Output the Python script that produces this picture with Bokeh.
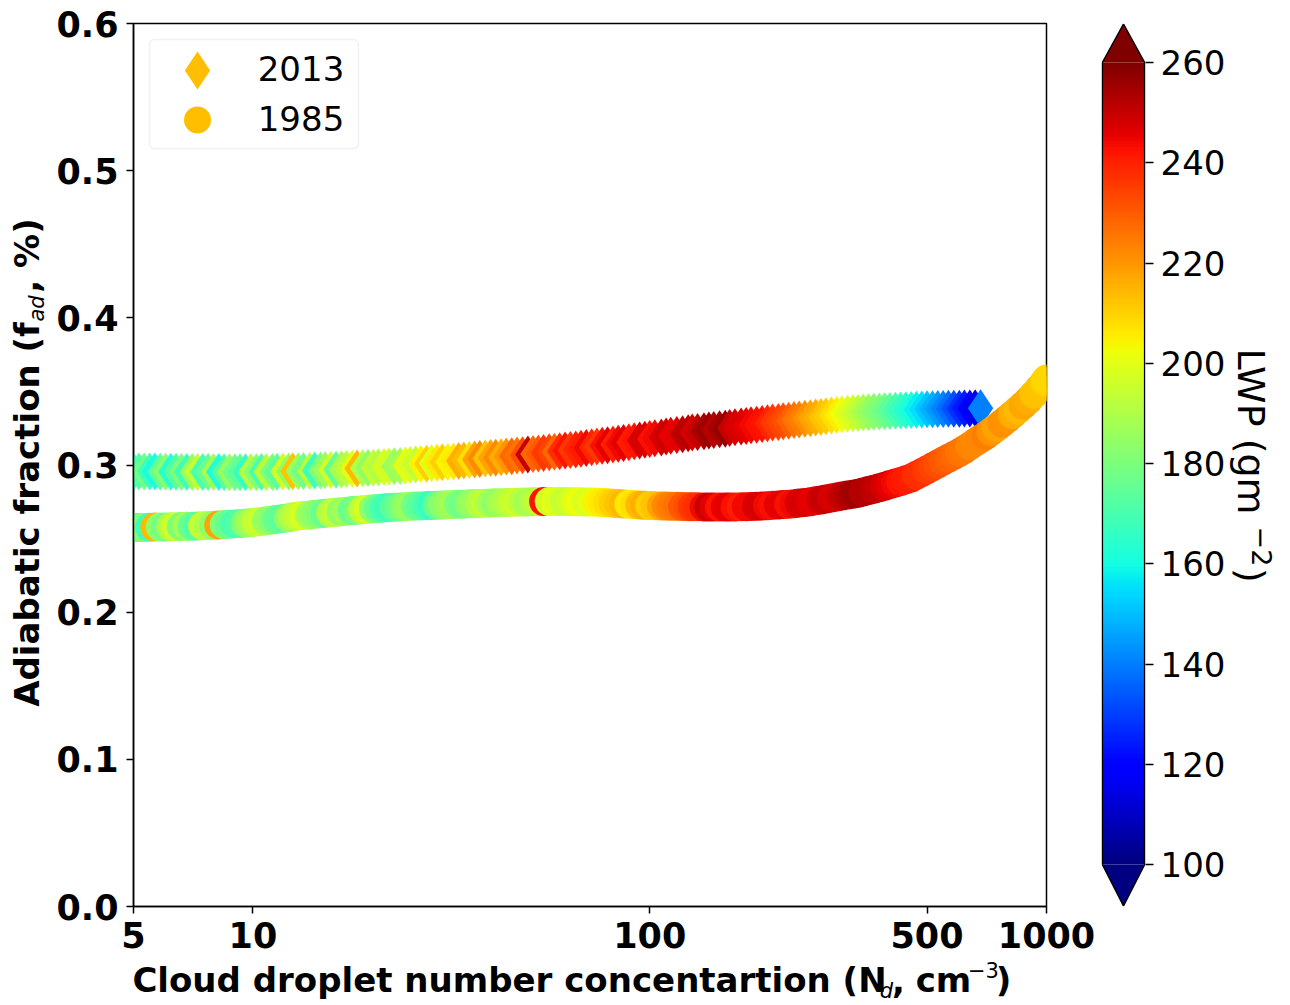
import numpy as np
from bokeh.plotting import figure
from bokeh.layouts import row, column
from bokeh.models import (Range1d, FixedTicker, BoxAnnotation, ColumnDataSource,
                          LinearColorMapper, NumeralTickFormatter)
from bokeh.transform import linear_cmap
from bokeh.core.properties import value
from bokeh.embed import file_html
from bokeh.resources import INLINE

# ---------------- data ----------------
nd_2013 = [5.00, 5.16, 5.32, 5.49, 5.66, 5.84, 6.02, 6.21, 6.40, 6.60,
           6.81, 7.03, 7.25, 7.47, 7.71, 7.95, 8.20, 8.46, 8.72, 9.00,
           9.28, 9.57, 9.87, 10.2, 10.5, 10.8, 11.2, 11.5, 11.9, 12.3,
           12.6, 13.0, 13.4, 13.9, 14.3, 14.8, 15.2, 15.7, 16.2, 16.7,
           17.2, 17.8, 18.3, 18.9, 19.5, 20.1, 20.7, 21.4, 22.0, 22.7,
           23.5, 24.2, 24.9, 25.7, 26.5, 27.4, 28.2, 29.1, 30.0, 31.0,
           32.0, 33.0, 34.0, 35.1, 36.2, 37.3, 38.5, 39.7, 40.9, 42.2,
           43.5, 44.9, 46.3, 47.8, 49.3, 50.8, 52.4, 54.0, 55.8, 57.5,
           59.3, 61.2, 63.1, 65.1, 67.1, 69.2, 71.4, 73.6, 75.9, 78.3,
           80.8, 83.3, 85.9, 88.6, 91.4, 94.3, 97.2, 100, 103, 107,
           110, 113, 117, 121, 125, 128, 132, 137, 141, 145,
           150, 155, 159, 164, 170, 175, 180, 186, 192, 198,
           204, 211, 217, 224, 231, 238, 246, 254, 262, 270,
           278, 287, 296, 305, 315, 325, 335, 345, 356, 367,
           379, 391, 403, 416, 429, 442, 456, 470, 485, 500,
           516, 532, 549, 566, 584, 603, 621, 641, 661, 682]
fad_2013 = [0.2956, 0.2956, 0.2955, 0.2955, 0.2955, 0.2954, 0.2954, 0.2954, 0.2954, 0.2953,
            0.2953, 0.2953, 0.2953, 0.2952, 0.2952, 0.2952, 0.2952, 0.2951, 0.2951, 0.2951,
            0.2951, 0.2951, 0.2951, 0.2951, 0.2952, 0.2952, 0.2953, 0.2954, 0.2955, 0.2956,
            0.2957, 0.2958, 0.2959, 0.2960, 0.2962, 0.2963, 0.2965, 0.2966, 0.2968, 0.2970,
            0.2972, 0.2974, 0.2976, 0.2978, 0.2980, 0.2982, 0.2984, 0.2986, 0.2989, 0.2991,
            0.2994, 0.2997, 0.3000, 0.3003, 0.3006, 0.3009, 0.3012, 0.3015, 0.3018, 0.3021,
            0.3024, 0.3027, 0.3031, 0.3034, 0.3037, 0.3040, 0.3044, 0.3047, 0.3050, 0.3053,
            0.3057, 0.3060, 0.3064, 0.3067, 0.3071, 0.3074, 0.3078, 0.3082, 0.3086, 0.3090,
            0.3094, 0.3098, 0.3102, 0.3106, 0.3111, 0.3115, 0.3120, 0.3125, 0.3130, 0.3135,
            0.3140, 0.3145, 0.3150, 0.3155, 0.3161, 0.3166, 0.3172, 0.3177, 0.3182, 0.3187,
            0.3193, 0.3198, 0.3204, 0.3209, 0.3215, 0.3220, 0.3225, 0.3230, 0.3234, 0.3238,
            0.3243, 0.3247, 0.3252, 0.3256, 0.3261, 0.3265, 0.3270, 0.3274, 0.3279, 0.3283,
            0.3288, 0.3292, 0.3297, 0.3301, 0.3306, 0.3310, 0.3314, 0.3318, 0.3323, 0.3327,
            0.3332, 0.3336, 0.3340, 0.3344, 0.3348, 0.3351, 0.3354, 0.3357, 0.3359, 0.3361,
            0.3363, 0.3365, 0.3367, 0.3369, 0.3371, 0.3372, 0.3374, 0.3375, 0.3377, 0.3378,
            0.3379, 0.3380, 0.3381, 0.3382, 0.3383, 0.3383, 0.3384, 0.3384, 0.3385, 0.3385]
lwp_2013 = [165, 172, 178, 168, 160, 175, 182, 164, 172, 180,
            168, 186, 194, 170, 176, 188, 162, 172, 185, 178,
            174, 166, 190, 182, 170, 192, 180, 174, 196, 184,
            212, 186, 178, 192, 168, 180, 186, 196, 175, 188,
            192, 200, 214, 190, 184, 194, 190, 198, 196, 186,
            188, 200, 198, 194, 204, 210, 200, 206, 210, 204,
            206, 216, 214, 208, 218, 222, 212, 218, 222, 216,
            220, 228, 226, 232, 250, 228, 230, 236, 234, 228,
            238, 242, 236, 239, 241, 244, 239, 236, 243, 246,
            240, 244, 246, 241, 242, 248, 247, 243, 244, 248,
            249, 245, 246, 251, 252, 248, 250, 254, 256, 252,
            254, 257, 250, 248, 247, 245, 244, 243, 242, 239,
            236, 234, 232, 229, 226, 224, 221, 218, 216, 213,
            211, 208, 205, 202, 199, 196, 193, 189, 186, 183,
            180, 177, 174, 170, 167, 164, 161, 158, 155, 151,
            148, 144, 141, 137, 133, 128, 124, 119, 116, 140]

nd_1985 = [5.00, 5.16, 5.32, 5.49, 5.66, 5.84, 6.02, 6.21, 6.40, 6.60,
           6.81, 7.03, 7.25, 7.47, 7.71, 7.95, 8.20, 8.46, 8.72, 9.00,
           9.28, 9.57, 9.87, 10.2, 10.5, 10.8, 11.2, 11.5, 11.9, 12.3,
           12.6, 13.0, 13.4, 13.9, 14.3, 14.8, 15.2, 15.7, 16.2, 16.7,
           17.2, 17.8, 18.3, 18.9, 19.5, 20.1, 20.7, 21.4, 22.0, 22.7,
           23.5, 24.2, 24.9, 25.7, 26.5, 27.4, 28.2, 29.1, 30.0, 31.0,
           32.0, 33.0, 34.0, 35.1, 36.2, 37.3, 38.5, 39.7, 40.9, 42.2,
           43.5, 44.9, 46.3, 47.8, 49.3, 50.8, 52.4, 54.0, 55.8, 57.5,
           59.3, 61.2, 63.1, 65.1, 67.1, 69.2, 71.4, 73.6, 75.9, 78.3,
           80.8, 83.3, 85.9, 88.6, 91.4, 94.3, 97.2, 100, 103, 107,
           110, 113, 117, 121, 125, 128, 132, 137, 141, 145,
           150, 155, 159, 164, 170, 175, 180, 186, 192, 198,
           204, 211, 217, 224, 231, 238, 246, 254, 262, 270,
           278, 287, 296, 305, 315, 325, 335, 345, 356, 367,
           379, 391, 403, 416, 429, 442, 456, 470, 485, 500,
           516, 532, 549, 566, 584, 603, 621, 641, 661, 682,
           703, 725, 748, 772, 796, 821, 846, 873, 900, 929,
           958, 988, 1000]
fad_1985 = [0.2575, 0.2575, 0.2576, 0.2577, 0.2578, 0.2578, 0.2579, 0.2580, 0.2581, 0.2582,
            0.2583, 0.2584, 0.2586, 0.2587, 0.2589, 0.2591, 0.2593, 0.2595, 0.2597, 0.2600,
            0.2603, 0.2606, 0.2609, 0.2612, 0.2616, 0.2621, 0.2626, 0.2631, 0.2637, 0.2642,
            0.2648, 0.2653, 0.2657, 0.2661, 0.2665, 0.2669, 0.2672, 0.2676, 0.2679, 0.2682,
            0.2686, 0.2690, 0.2693, 0.2696, 0.2699, 0.2702, 0.2705, 0.2708, 0.2711, 0.2713,
            0.2715, 0.2717, 0.2719, 0.2721, 0.2722, 0.2724, 0.2725, 0.2727, 0.2728, 0.2730,
            0.2731, 0.2733, 0.2734, 0.2736, 0.2737, 0.2739, 0.2740, 0.2742, 0.2743, 0.2744,
            0.2745, 0.2746, 0.2747, 0.2748, 0.2749, 0.2750, 0.2751, 0.2752, 0.2752, 0.2752,
            0.2752, 0.2752, 0.2751, 0.2751, 0.2750, 0.2749, 0.2748, 0.2747, 0.2745, 0.2743,
            0.2740, 0.2738, 0.2735, 0.2733, 0.2730, 0.2728, 0.2726, 0.2724, 0.2723, 0.2722,
            0.2721, 0.2720, 0.2719, 0.2718, 0.2717, 0.2716, 0.2716, 0.2715, 0.2715, 0.2715,
            0.2715, 0.2715, 0.2715, 0.2715, 0.2716, 0.2717, 0.2718, 0.2719, 0.2721, 0.2723,
            0.2726, 0.2728, 0.2731, 0.2734, 0.2737, 0.2741, 0.2746, 0.2751, 0.2757, 0.2763,
            0.2769, 0.2775, 0.2782, 0.2789, 0.2796, 0.2802, 0.2808, 0.2817, 0.2826, 0.2836,
            0.2846, 0.2856, 0.2867, 0.2877, 0.2888, 0.2900, 0.2912, 0.2930, 0.2949, 0.2968,
            0.2988, 0.3007, 0.3027, 0.3046, 0.3065, 0.3085, 0.3106, 0.3130, 0.3154, 0.3178,
            0.3201, 0.3227, 0.3254, 0.3284, 0.3313, 0.3343, 0.3373, 0.3406, 0.3440, 0.3480,
            0.3521, 0.3566, 0.3585]
lwp_1985 = [170, 176, 182, 168, 214, 184, 178, 190, 196, 180,
            188, 176, 172, 194, 190, 184, 218, 180, 176, 170,
            172, 182, 188, 194, 196, 186, 182, 176, 174, 184,
            190, 194, 198, 188, 184, 180, 176, 190, 194, 184,
            188, 176, 180, 192, 198, 184, 176, 170, 168, 174,
            178, 184, 186, 178, 174, 170, 166, 176, 182, 186,
            188, 180, 178, 184, 186, 190, 194, 188, 184, 188,
            190, 194, 196, 192, 188, 190, 194, 242, 196, 200,
            198, 194, 196, 200, 202, 198, 200, 204, 206, 208,
            210, 212, 214, 206, 208, 214, 216, 210, 212, 218,
            222, 224, 226, 230, 232, 236, 238, 244, 250, 246,
            242, 245, 246, 243, 240, 244, 244, 247, 248, 244,
            243, 245, 246, 243, 244, 247, 248, 246, 245, 249,
            250, 248, 247, 250, 252, 254, 255, 252, 253, 251,
            250, 248, 246, 244, 242, 241, 240, 238, 237, 235,
            234, 232, 230, 229, 228, 226, 225, 223, 222, 223,
            224, 220, 218, 221, 220, 216, 214, 217, 216, 213,
            212, 210, 209]

series_labels = ["2013", "1985"]
x_ticks = [5, 10, 100, 500, 1000]
y_ticks = [0.0, 0.1, 0.2, 0.3, 0.4, 0.5, 0.6]
cbar_ticks = [100, 120, 140, 160, 180, 200, 220, 240, 260]
LWP_LOW, LWP_HIGH = 100, 260
X_LO, X_HI = 5, 1000
Y_LO, Y_HI = 0.0, 0.6

# ---------------- colormap (matplotlib "jet") ----------------
def jet(n=256):
    t = np.linspace(0, 1, n)
    r = np.interp(t, [0, 0.35, 0.66, 0.89, 1], [0, 0, 1, 1, 0.5])
    g = np.interp(t, [0, 0.125, 0.375, 0.64, 0.91, 1], [0, 0, 1, 1, 0, 0])
    b = np.interp(t, [0, 0.11, 0.34, 0.65, 1], [0.5, 1, 1, 0, 0])
    return ["#%02x%02x%02x" % (int(round(255 * a)), int(round(255 * c)), int(round(255 * d)))
            for a, c, d in zip(r, g, b)]

JET = jet()
FONT = "DejaVu Sans"
LEG_COLOR = "#ffbf00"

# page geometry of the plot frame (used for legend / title placement only)
FL, FR, FT, FB = 133, 1046, 23, 906
def px2x(px):
    return X_LO * 10 ** ((px - FL) / (FR - FL) * np.log10(X_HI / X_LO))
def py2y(py):
    return Y_LO + (FB - py) / (FB - FT) * (Y_HI - Y_LO)

def put_text(fig, x, y, text, size="34px", style="bold", angle=0.0):
    # anchored on the centre of the text (centre / middle alignment)
    fig.text(x=[x], y=[y], text=[text], text_font=value(FONT), text_font_size=value(size),
             text_font_style=style, text_color="black", text_align="center",
             text_baseline="middle", angle=angle)

def text_fig(w, h, xr, yr):
    # xr / yr: the page-pixel span covered by this strip's frame (y given top->bottom)
    f = figure(width=w, height=h, x_range=Range1d(*xr), y_range=Range1d(yr[1], yr[0]),
               output_backend="svg", toolbar_location=None,
               x_axis_location=None, y_axis_location=None,
               min_border_left=0, min_border_right=0, min_border_top=0, min_border_bottom=0)
    f.grid.visible = False
    f.outline_line_color = None
    f.background_fill_color = "white"
    f.border_fill_color = "white"
    return f

# ---------------- main figure ----------------
LEFT_W = 50          # width of the y-title strip
P_W, P_H = 1045, 957
p = figure(width=P_W, height=P_H, x_axis_type="log",
           x_range=Range1d(X_LO, X_HI), y_range=Range1d(Y_LO, Y_HI),
           output_backend="svg", toolbar_location=None,
           min_border_left=FL - LEFT_W, min_border_right=49, min_border_top=FT,
           min_border_bottom=P_H - FB)
p.background_fill_color = "white"
p.border_fill_color = "white"
p.grid.visible = False
p.outline_line_color = "black"
p.outline_line_width = 1.5

p.xaxis.ticker = FixedTicker(ticks=x_ticks, minor_ticks=[])
p.xaxis.formatter = NumeralTickFormatter(format="0")
p.yaxis.ticker = FixedTicker(ticks=y_ticks, minor_ticks=[])
p.yaxis.formatter = NumeralTickFormatter(format="0.0")
for ax in (p.xaxis[0], p.yaxis[0]):
    ax.major_label_text_font = FONT
    ax.major_label_text_font_size = "35px"
    ax.major_label_text_font_style = "bold"
    ax.major_label_text_color = "black"
    ax.axis_line_color = "black"
    ax.axis_line_width = 1.5
    ax.major_tick_line_color = "black"
    ax.major_tick_line_width = 1.5
    ax.major_tick_out = 7
    ax.major_tick_in = 0
    ax.minor_tick_line_color = None
p.xaxis.major_label_standoff = 8
p.yaxis.major_label_standoff = 8

src13 = ColumnDataSource(dict(nd=nd_2013, fad=fad_2013, lwp=lwp_2013))
src85 = ColumnDataSource(dict(nd=nd_1985, fad=fad_1985, lwp=lwp_1985))
cmap = linear_cmap("lwp", JET, LWP_LOW, LWP_HIGH)
p.scatter("nd", "fad", source=src13, marker="diamond", size=38,
          fill_color=cmap, line_color=None)
p.scatter("nd", "fad", source=src85, marker="circle", size=29,
          fill_color=cmap, line_color=None)

# ---------------- legend (hand-built to get large markers) ----------------
p.add_layout(BoxAnnotation(left=px2x(149), right=px2x(358), top=py2y(39), bottom=py2y(148),
                           fill_color="white", fill_alpha=0.8, line_color="#d0d0d0",
                           line_width=1.5, border_radius=5, level="underlay"))
p.scatter([px2x(197)], [py2y(70)], marker="diamond", size=38, fill_color=LEG_COLOR, line_color=None)
p.scatter([px2x(197)], [py2y(119.5)], marker="circle", size=27, fill_color=LEG_COLOR, line_color=None)
for lab, cy in zip(series_labels, (68, 118)):
    put_text(p, px2x(300.5), py2y(cy), lab, size="34px", style="normal")

# ---------------- y title strip (rotated, pieces for the subscript) ----------------
# its frame is aligned by the row to the plot frame rows (page y 23..906)
ylab = text_fig(LEFT_W, P_H, (0, LEFT_W), (FT, FB))
put_text(ylab, 26.5, 514, "Adiabatic fraction (f", angle=np.pi / 2)
put_text(ylab, 36, 308, "ad", size="21px", style="italic", angle=np.pi / 2)
put_text(ylab, 26.5, 255, ", %)", angle=np.pi / 2)

# ---------------- x title strip ----------------
# its frame is aligned by the column to the plot frame columns (page x 133..1046)
XL_H = 1003 - P_H
xlab = text_fig(P_W, XL_H, (FL, FR), (P_H, P_H + XL_H))
put_text(xlab, 509, 979.5, "Cloud droplet number concentartion (N")
put_text(xlab, 886, 990, "d", size="21px", style="italic")
put_text(xlab, 898, 979.5, ",")
put_text(xlab, 943, 979.5, "cm")
put_text(xlab, 983, 969.5, "\u22123", size="21px", style="normal")
put_text(xlab, 1003, 979.5, ")")

# ---------------- colorbar figure ----------------
px_per_unit = (864 - 62) / (LWP_HIGH - LWP_LOW)
cb_hi = LWP_HIGH + (62 - FT) / px_per_unit
cb_lo = LWP_LOW - (FB - 864) / px_per_unit
tip_hi = LWP_HIGH + (62 - 23.5) / px_per_unit
tip_lo = LWP_LOW - (905.5 - 864) / px_per_unit

CB_W = 133
c = figure(width=CB_W, height=P_H, x_range=Range1d(-0.02, 1.02), y_range=Range1d(cb_lo, cb_hi),
           output_backend="svg", toolbar_location=None,
           x_axis_location=None, y_axis_location="right",
           min_border_left=6, min_border_right=CB_W - 6 - 47, min_border_top=FT,
           min_border_bottom=P_H - FB)
c.background_fill_color = "white"
c.border_fill_color = "white"
c.grid.visible = False
c.outline_line_color = None

grad = np.linspace(LWP_LOW, LWP_HIGH, 256).reshape(256, 1)
c.image(image=[grad], x=0, y=LWP_LOW, dw=1, dh=LWP_HIGH - LWP_LOW,
        color_mapper=LinearColorMapper(palette=JET, low=LWP_LOW, high=LWP_HIGH))
c.patch([0, 1, 0.5], [LWP_HIGH, LWP_HIGH, tip_hi], fill_color=JET[-1], line_color=None)
c.patch([0, 1, 0.5], [LWP_LOW, LWP_LOW, tip_lo], fill_color=JET[0], line_color=None)
c.line([0, 0, 0.5, 1, 1, 0.5, 0], [LWP_LOW, LWP_HIGH, tip_hi, LWP_HIGH, LWP_LOW, tip_lo, LWP_LOW],
       line_color="black", line_width=1.5)

cax = c.yaxis[0]
cax.ticker = FixedTicker(ticks=cbar_ticks, minor_ticks=[])
cax.axis_line_color = None
cax.major_tick_line_color = "black"
cax.major_tick_line_width = 1.5
cax.major_tick_out = 8
cax.major_tick_in = 0
cax.minor_tick_line_color = None
cax.major_label_standoff = 7
cax.major_label_text_font = FONT
cax.major_label_text_font_size = "34px"
cax.major_label_text_color = "black"

# ---------------- colorbar title strip ----------------
CT_X0 = LEFT_W + P_W + CB_W
CT_W = 1290 - CT_X0
ctit = text_fig(CT_W, P_H, (CT_X0, 1290), (FT, FB))
for px, py, txt, sz in ((1250, 431, "LWP (gm", "38px"),
                        (1261, 546, "\u22122", "27px"),
                        (1250, 575, ")", "38px")):
    put_text(ctit, px, py, txt, size=sz, style="normal", angle=-np.pi / 2)

layout = row(ylab, column(p, xlab), c, ctit)
open("out.html", "w").write(file_html(layout, INLINE))
